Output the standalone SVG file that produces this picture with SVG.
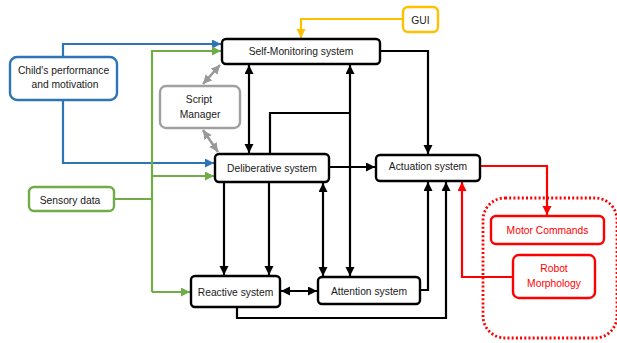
<svg xmlns="http://www.w3.org/2000/svg" width="617" height="343" viewBox="0 0 617 343">
  <style>
    text { font-family: "Liberation Sans", Arial, sans-serif; font-size: 10.3px; text-anchor: middle; dominant-baseline: central; fill: #1a1a1a; }
    .box { fill: #fff; stroke: #000; stroke-width: 2.4; }
    .blue { fill: #fff; stroke: #2E75B6; stroke-width: 2.4; }
    .green { fill: #fff; stroke: #70AD47; stroke-width: 2.4; }
    .yellow { fill: #fff; stroke: #FFC000; stroke-width: 2.4; }
    .grey { fill: #fff; stroke: #A0A0A0; stroke-width: 2.4; }
    .red { fill: #fff; stroke: #FF0000; stroke-width: 2.4; }
    .redtxt { fill: #FF0000; }
    .ln { fill: none; stroke-width: 2.2; stroke-linejoin: miter; }
    .k { stroke: #000; }
    .b { stroke: #2E75B6; }
    .g { stroke: #70AD47; }
    .y { stroke: #FFC000; }
    .gr { stroke: #999; stroke-width: 2.6; }
    .r { stroke: #FF0000; }
  </style>
  <defs>
    <marker id="ak" markerUnits="userSpaceOnUse" markerWidth="10" markerHeight="10" refX="9" refY="4.5" orient="auto-start-reverse"><path d="M0,0 L9,4.5 L0,9 z" fill="#000"/></marker>
    <marker id="ab" markerUnits="userSpaceOnUse" markerWidth="10" markerHeight="10" refX="9" refY="4.5" orient="auto"><path d="M0,0 L9,4.5 L0,9 z" fill="#2E75B6"/></marker>
    <marker id="ag" markerUnits="userSpaceOnUse" markerWidth="10" markerHeight="10" refX="9" refY="4.5" orient="auto"><path d="M0,0 L9,4.5 L0,9 z" fill="#70AD47"/></marker>
    <marker id="ay" markerUnits="userSpaceOnUse" markerWidth="10" markerHeight="10" refX="9" refY="4.5" orient="auto"><path d="M0,0 L9,4.5 L0,9 z" fill="#FFC000"/></marker>
    <marker id="agr" markerUnits="userSpaceOnUse" markerWidth="10" markerHeight="10" refX="9" refY="4.5" orient="auto-start-reverse"><path d="M0,0 L9,4.5 L0,9 z" fill="#999"/></marker>
    <marker id="ar" markerUnits="userSpaceOnUse" markerWidth="10" markerHeight="10" refX="9" refY="4.5" orient="auto"><path d="M0,0 L9,4.5 L0,9 z" fill="#FF0000"/></marker>
  </defs>

  <rect width="617" height="343" fill="#fff"/>

  <!-- robot hardware region -->
  <rect id="robot-region" x="483" y="198" width="134" height="140" rx="22" fill="none" stroke="#FF0000" stroke-width="2.8" stroke-dasharray="2 2.2"/>

  <g id="connectors">
    <!-- child's performance -->
    <path class="ln b" d="M63,57 V44 H221" marker-end="url(#ab)"/>
    <path class="ln b" d="M63,100 V163 H214" marker-end="url(#ab)"/>
    <!-- sensory data -->
    <path class="ln g" d="M114,199 H152"/>
    <path class="ln g" d="M152,292 V51 H221" marker-end="url(#ag)"/>
    <path class="ln g" d="M152,176 H214" marker-end="url(#ag)"/>
    <path class="ln g" d="M152,292 H190" marker-end="url(#ag)"/>
    <!-- GUI -->
    <path class="ln y" d="M403,19 H301 V38" marker-end="url(#ay)"/>
    <!-- script manager -->
    <path class="ln gr" d="M203,84 L220,65" marker-start="url(#agr)" marker-end="url(#agr)"/>
    <path class="ln gr" d="M203,130 L218,152" marker-start="url(#agr)" marker-end="url(#agr)"/>
    <!-- core system links -->
    <path class="ln k" d="M249,65 V153" marker-start="url(#ak)" marker-end="url(#ak)"/>
    <path class="ln k" d="M350,65 V276" marker-start="url(#ak)" marker-end="url(#ak)"/>
    <path class="ln k" d="M270,154 V113 H350"/>
    <path class="ln k" d="M380,51 H428 V154" marker-end="url(#ak)"/>
    <path class="ln k" d="M329,167 H375" marker-end="url(#ak)"/>
    <path class="ln k" d="M224,182 V275" marker-end="url(#ak)"/>
    <path class="ln k" d="M269,182 V275" marker-end="url(#ak)"/>
    <path class="ln k" d="M323,183 V276" marker-start="url(#ak)" marker-end="url(#ak)"/>
    <path class="ln k" d="M281,291 H317" marker-start="url(#ak)" marker-end="url(#ak)"/>
    <path class="ln k" d="M420,290 H428 V182" marker-end="url(#ak)"/>
    <path class="ln k" d="M237,307 V318 H446 V182" marker-end="url(#ak)"/>
    <!-- robot links -->
    <path class="ln r" d="M480,166 H547 V215" marker-end="url(#ar)"/>
    <path class="ln r" d="M513,277 H462 V182" marker-end="url(#ar)"/>
  </g>

  <g id="self-monitoring">
    <rect class="box" x="222" y="39" width="158" height="25" rx="4"/>
    <text x="301" y="51.5">Self-Monitoring system</text>
  </g>
  <g id="deliberative">
    <rect class="box" x="215" y="154" width="114" height="28" rx="4"/>
    <text x="272" y="168">Deliberative system</text>
  </g>
  <g id="actuation">
    <rect class="box" x="376" y="155" width="104" height="26" rx="4"/>
    <text x="428" y="166.5">Actuation system</text>
  </g>
  <g id="reactive">
    <rect class="box" x="191" y="276" width="89" height="31" rx="4"/>
    <text x="235.5" y="292">Reactive system</text>
  </g>
  <g id="attention">
    <rect class="box" x="318" y="277" width="102" height="27" rx="4"/>
    <text x="369" y="291">Attention system</text>
  </g>
  <g id="script-manager">
    <rect class="grey" x="160" y="86" width="80" height="42" rx="6"/>
    <text x="199" y="99">Script</text>
    <text x="200" y="114">Manager</text>
  </g>
  <g id="child-performance">
    <rect class="blue" x="10" y="57" width="107" height="43" rx="7"/>
    <text x="63.5" y="70">Child's performance</text>
    <text x="65" y="84">and motivation</text>
  </g>
  <g id="sensory-data">
    <rect class="green" x="29" y="187" width="85" height="24" rx="5"/>
    <text x="70" y="200">Sensory data</text>
  </g>
  <g id="gui">
    <rect class="yellow" x="403" y="7" width="35" height="25" rx="5"/>
    <text x="420.5" y="20">GUI</text>
  </g>
  <g id="motor-commands">
    <rect class="red" x="491" y="216" width="113" height="28" rx="5"/>
    <text class="redtxt" x="547.5" y="230.5">Motor Commands</text>
  </g>
  <g id="robot-morphology">
    <rect class="red" x="513" y="255" width="82" height="43" rx="6"/>
    <text class="redtxt" x="554" y="268">Robot</text>
    <text class="redtxt" x="554" y="283">Morphology</text>
  </g>
</svg>
